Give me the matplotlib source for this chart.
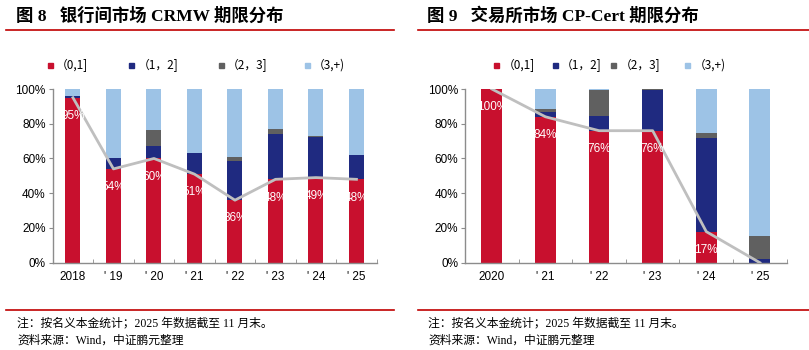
"""Two stacked-bar panels: CRMW / CP-Cert maturity split with (0,1] share line."""
import numpy as np
import matplotlib; matplotlib.use("Agg")
import matplotlib.pyplot as plt
from matplotlib.patches import Rectangle
from matplotlib.lines import Line2D

plt.rcParams["font.family"] = ["Liberation Sans", "Noto Sans CJK SC", "DejaVu Sans"]
plt.rcParams["axes.unicode_minus"] = False

RED, NAVY, DGRAY, LBLUE, LINE, AX = "#C8102E", "#1F2A80", "#606060", "#9DC3E6", "#BFBFBF", "#8C8C8C"
CJK = ["Noto Sans CJK SC", "DejaVu Sans"]
SERIF_CJK = ["Liberation Serif", "Noto Sans CJK SC", "DejaVu Sans"]
COLS = [RED, NAVY, DGRAY, LBLUE]

series = ["（0,1]", "（1，2]", "（2，3]", "（3,+)"]

# fig 8: interbank CRMW
years8 = ["2018", "' 19", "' 20", "' 21", "' 22", "' 23", "' 24", "' 25"]
a8 = [95, 54, 60, 51, 36, 48, 49, 48]          # (0,1]
b8 = [1, 6.2, 7.1, 11.9, 22.5, 26.1, 23.6, 14]  # (1,2]
c8 = [0, 0, 9.2, 0, 2.3, 3.1, 0.3, 0]           # (2,3]
d8 = [4, 39.8, 23.7, 37.1, 39.2, 22.8, 27.1, 38]  # (3,+)
lab8 = ["95%", "54%", "60%", "51%", "36%", "48%", "49%", "48%"]

# fig 9: exchange CP-Cert
years9 = ["2020", "' 21", "' 22", "' 23", "' 24", "' 25"]
a9 = [100, 84, 76, 76, 17.9, 0]
b9 = [0, 3, 8.6, 23.4, 54.1, 1.9]
c9 = [0, 1.3, 14.8, 0.6, 2.9, 13.3]
d9 = [0, 11.7, 0.6, 0, 25.1, 84.8]
lab9 = ["100%", "84%", "76%", "76%", "17%", ""]

W, H = 809, 350
fig = plt.figure(figsize=(W / 100, H / 100), dpi=100)
fig.patch.set_facecolor("white")


def px(x, y):
    return x / W, 1 - y / H


def panel(rect, cats, a, b, c, d, labels, width, leg_xs):
    ax = fig.add_axes(rect)
    x = np.arange(len(cats))
    bottom = np.zeros(len(cats))
    for vals, col in zip([a, b, c, d], COLS):
        ax.bar(x, vals, width, bottom=bottom, color=col, zorder=2)
        bottom += np.array(vals)
    ax.plot(x, a, color=LINE, lw=2, zorder=3)
    for xi, v, t in zip(x, a, labels):
        if t:
            ax.text(xi, v - 10.5, t, ha="center", va="center", color="white", fontsize=8.5, zorder=4)
    ax.set_xlim(-0.5, len(cats) - 0.5)
    ax.set_ylim(0, 100)
    ax.set_yticks(range(0, 101, 20))
    ax.set_yticklabels([f"{v}%" for v in range(0, 101, 20)], fontsize=8.5)
    ax.set_xticks(x)
    ax.set_xticklabels(cats, fontsize=8.5)
    ax.set_xticks(np.arange(len(cats) + 1) - 0.5, minor=True)
    ax.tick_params(axis="x", which="major", length=0, pad=6)
    ax.tick_params(axis="x", which="minor", length=3, direction="in", color=AX)
    ax.tick_params(axis="y", length=3, color=AX, pad=2)
    for s in ["top", "right"]:
        ax.spines[s].set_visible(False)
    for s in ["left", "bottom"]:
        ax.spines[s].set_color(AX)
        ax.spines[s].set_linewidth(1)
    # legend drawn by hand so the entries sit where the original puts them
    for lx, col, name in zip(leg_xs, COLS, series):
        fig.add_artist(Rectangle(px(lx - 2.5, 67.5), 5 / W, 5 / H, color=col, transform=fig.transFigure))
        fig.text(*px(lx + 6, 65), name, fontsize=8.5, family=CJK, va="center", ha="left")
    return ax


l, b = px(52.7, 262.7)
panel([l, b, 324 / W, 173.7 / H], years8, a8, b8, c8, d8, lab8, 0.37, [50, 131.7, 221, 307])
l, b = px(465, 262.7)
panel([l, b, 321.7 / W, 173.7 / H], years9, a9, b9, c9, d9, lab9, 0.39, [496.7, 555, 613.3, 687.3])

# titles and rules
for x0, x1, xt, title in [(6, 394, 16, "图 8   银行间市场 CRMW 期限分布"),
                          (418, 809, 427, "图 9   交易所市场 CP-Cert 期限分布")]:
    fig.text(*px(xt, 16), title, fontsize=12.5, fontweight="bold", family=SERIF_CJK, va="center", ha="left")
    fig.add_artist(Line2D([x0 / W, x1 / W], [1 - 30 / H] * 2, color="#C00000", lw=1.2))
    fig.add_artist(Line2D([x0 / W, x1 / W], [1 - 310 / H] * 2, color="#C00000", lw=1.2))
    fig.text(*px(xt + 1, 323), "注：按名义本金统计；2025 年数据截至 11 月末。", fontsize=8.5, family=SERIF_CJK, va="center")
    fig.text(*px(xt + 1, 341), "资料来源：Wind，中证鹏元整理", fontsize=8.5, family=SERIF_CJK, va="center")

fig.savefig("out.png", dpi=100, facecolor="white")
